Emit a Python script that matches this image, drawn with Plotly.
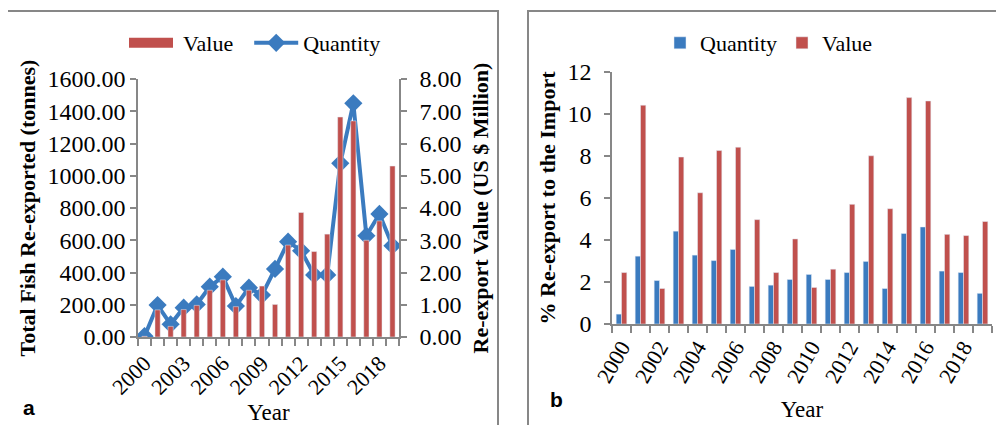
import plotly.graph_objects as go

# ---------------- data ----------------
years = list(range(2000, 2020))

# Panel a
qty_tonnes = [5, 198, 79, 182, 202, 312, 374, 192, 306, 260,
              422, 591, 535, 385, 385, 1077, 1449, 628, 763, 566]
value_musd = [0.02, 0.84, 0.33, 0.85, 0.98, 1.45, 1.77, 0.94, 1.45, 1.58,
              1.01, 2.85, 3.86, 2.65, 3.19, 6.82, 6.70, 3.00, 3.60, 5.30]
tick_a = [2000, 2003, 2006, 2009, 2012, 2015, 2018]

# Panel b (% re-export to import)
pct_qty = [0.47, 3.23, 2.07, 4.42, 3.28, 3.02, 3.55, 1.79, 1.85, 2.12,
           2.36, 2.12, 2.45, 2.98, 1.69, 4.31, 4.62, 2.52, 2.45, 1.46]
pct_val = [2.45, 10.42, 1.69, 7.95, 6.25, 8.26, 8.42, 4.97, 2.45, 4.05,
           1.74, 2.61, 5.70, 8.01, 5.49, 10.78, 10.62, 4.27, 4.21, 4.88]
tick_b = [2000, 2002, 2004, 2006, 2008, 2010, 2012, 2014, 2016, 2018]

# ---------------- style ----------------
OFF = 8                      # page body margin
W, H = 1004 - OFF, 425 - OFF
BLUE = "#3B7BBF"
RED = "#C0504D"
GRAY = "#878787"
SERIF = "Liberation Serif, Times New Roman, serif"
SANS = "Liberation Sans, Arial, sans-serif"

def px_x(p):
    return (p - OFF) / W

def px_y(p):
    return 1 - (p - OFF) / H

fig = go.Figure()

# Panel a: bars (value, right axis) + line (quantity, left axis)
fig.add_trace(go.Bar(x=years, y=value_musd, name="Value", marker_color=RED,
                     width=0.4, xaxis="x", yaxis="y2", showlegend=False))
fig.add_trace(go.Scatter(x=[None], y=[None], mode="lines", name=" Value\u00a0\u00a0",
                         line=dict(color=RED, width=10), xaxis="x", yaxis="y",
                         legend="legend"))
fig.add_trace(go.Scatter(x=years, y=qty_tonnes, mode="lines+markers", name="Quantity",
                         line=dict(color=BLUE, width=4),
                         marker=dict(symbol="diamond", size=14, color=BLUE),
                         xaxis="x", yaxis="y", legend="legend"))

# Panel b: grouped bars
fig.add_trace(go.Bar(x=years, y=pct_qty, name="Quantity", marker_color=BLUE,
                     width=0.28, offset=-0.28, xaxis="x3", yaxis="y3", legend="legend2"))
fig.add_trace(go.Bar(x=years, y=pct_val, name="Value", marker_color=RED,
                     width=0.28, offset=0.0, xaxis="x3", yaxis="y3", legend="legend2"))

axis_common = dict(showgrid=False, zeroline=False, showline=True, linecolor=GRAY,
                   linewidth=1.5, ticks="outside", tickcolor=GRAY, tickwidth=1.5,
                   ticklen=6, automargin=False,
                   tickfont=dict(family=SERIF, size=24, color="black"))

xdom_a = [px_x(138), px_x(399)]
ydom_a = [px_y(337), px_y(79)]
xdom_b = [px_x(612), px_x(992)]
ydom_b = [px_y(324), px_y(72)]

xtickfont = dict(family=SERIF, size=22, color="black")

fig.update_layout(
    width=W, height=H,
    margin=dict(l=0, r=0, t=0, b=0, autoexpand=False),
    paper_bgcolor="white", plot_bgcolor="white",
    font=dict(family=SERIF, size=22, color="black"),
    xaxis=dict(axis_common, domain=xdom_a, anchor="y", range=[1999.5, 2019.5],
               tickmode="array", tickvals=tick_a, ticks="", tickangle=-45,
               ticklabelstandoff=3, tickfont=xtickfont,
               minor=dict(tick0=1999.5, dtick=1, ticks="outside", ticklen=7,
                          tickcolor=GRAY, tickwidth=1.5),
               title=dict(text="Year", standoff=8, font=dict(family=SERIF, size=23))),
    yaxis=dict(axis_common, domain=ydom_a, anchor="x", range=[0, 1600], dtick=200,
               tickformat=".2f",
               title=dict(text="<b>Total Fish Re-exported (tonnes)</b>", standoff=6,
                          font=dict(family=SERIF, size=22))),
    yaxis2=dict(axis_common, overlaying="y", side="right", anchor="x", range=[0, 8],
                dtick=1, tickformat=".2f", ticklabelstandoff=8,
                title=dict(text="<b>Re-export Value (US $ Million)</b>", standoff=12,
                           font=dict(family=SERIF, size=22))),
    xaxis3=dict(axis_common, domain=xdom_b, anchor="y3", range=[1999.5, 2019.5],
                tickmode="array", tickvals=tick_b, ticks="", tickangle=-60,
                ticklabelstandoff=0, tickfont=xtickfont,
                minor=dict(tick0=1999.5, dtick=1, ticks="outside", ticklen=7,
                           tickcolor=GRAY, tickwidth=1.5),
                title=dict(text="Year", standoff=15, font=dict(family=SERIF, size=23))),
    yaxis3=dict(axis_common, domain=ydom_b, anchor="x3", range=[0, 12], dtick=2,
                ticklabelstandoff=8,
                title=dict(text="<b>% Re-export to the Import</b>", standoff=6,
                           font=dict(family=SERIF, size=22))),
    legend=dict(orientation="h", x=px_x(124), xanchor="left", y=px_y(43), yanchor="middle",
                font=dict(family=SERIF, size=22, color="black"), bgcolor="rgba(0,0,0,0)",
                itemwidth=44, traceorder="normal"),
    legend2=dict(orientation="h", x=px_x(660), xanchor="left", y=px_y(43), yanchor="middle",
                 font=dict(family=SERIF, size=22, color="black"), bgcolor="rgba(0,0,0,0)",
                 traceorder="normal"),
    shapes=[
        dict(type="rect", xref="paper", yref="paper", x0=px_x(7), x1=px_x(498),
             y0=-0.2, y1=px_y(11), line=dict(color=GRAY, width=2), fillcolor="rgba(0,0,0,0)",
             layer="below"),
        dict(type="rect", xref="paper", yref="paper", x0=px_x(528), x1=1.2,
             y0=-0.2, y1=px_y(11), line=dict(color=GRAY, width=2), fillcolor="rgba(0,0,0,0)",
             layer="below"),
    ],
    annotations=[
        dict(text="<b>a</b>", xref="paper", yref="paper", x=px_x(29), y=px_y(421),
             xanchor="center", yanchor="bottom",
             showarrow=False, font=dict(family=SANS, size=21, color="black")),
        dict(text="<b>b</b>", xref="paper", yref="paper", x=px_x(556), y=px_y(413),
             xanchor="center", yanchor="bottom",
             showarrow=False, font=dict(family=SANS, size=21, color="black")),
    ],
)

fig.write_html("out.html")
